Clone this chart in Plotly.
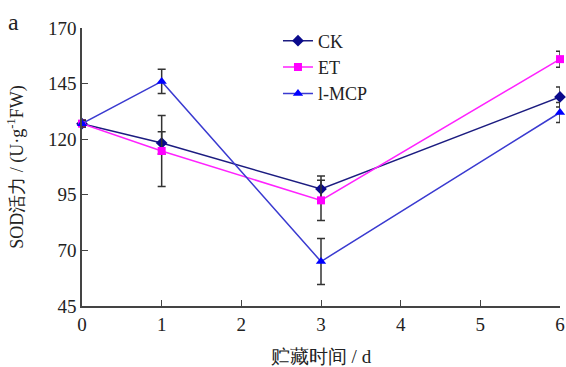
import plotly.graph_objects as go

days = [0, 1, 3, 6]
ck = [127, 118.3, 97.6, 139]
ck_err = [1.5, 5, 5.8, 4.5]
et = [127, 114.7, 92.5, 156]
et_err = [1.5, 16, 9, 3.6]
mcp = [127, 146, 65, 132]
mcp_err = [1.5, 5.5, 10.3, 4.5]

series = [
    ("CK", ck, ck_err, "#1c1c80", "#0a0a8c", "diamond", 9),
    ("ET", et, et_err, "#ff22ff", "#ff00ff", "square", 8),
    ("l-MCP", mcp, mcp_err, "#3a3ad0", "#0000ff", "triangle-up", 9),
]

fig = go.Figure()
for name, y, err, lc, mc, sym, ms in series:
    fig.add_trace(go.Scatter(
        x=days, y=y, name=name, mode="lines+markers", cliponaxis=False,
        line=dict(color=lc, width=1.5),
        marker=dict(color=mc, symbol=sym, size=ms),
        error_y=dict(type="data", array=err, visible=True, color="#333333", thickness=1.5, width=4),
    ))

font = "Liberation Serif, Times New Roman, serif"
fig.update_layout(
    width=566, height=367,
    margin=dict(l=82, r=6, t=28, b=61),
    paper_bgcolor="white", plot_bgcolor="white",
    font=dict(family=font, size=18, color="#222222"),
    showlegend=True,
    legend=dict(x=0.41, y=1.02, xanchor="left", yanchor="top", bgcolor="rgba(0,0,0,0)",
                font=dict(size=18, family=font), tracegroupgap=0, itemwidth=30),
    xaxis=dict(range=[0, 6], tickvals=[0, 1, 2, 3, 4, 5, 6], showgrid=False, zeroline=False,
               showline=True, linecolor="#444444", linewidth=1.5, ticks="inside", ticklen=6,
               tickcolor="#444444", tickfont=dict(size=19, family=font), automargin=False,
               title=dict(text="贮藏时间 / d", font=dict(size=19, family=font), standoff=17)),
    yaxis=dict(range=[45, 170], tickvals=[45, 70, 95, 120, 145, 170], showgrid=False, zeroline=False,
               showline=True, linecolor="#444444", linewidth=1.5, ticks="inside", ticklen=6,
               tickcolor="#444444", tickfont=dict(size=19, family=font), automargin=False,
               title=dict(text="SOD活力 / (U·g<sup>-1</sup>FW)", font=dict(size=18, family=font), standoff=20)),
)
fig.add_annotation(text="a", x=-0.144, y=1.02, xref="paper", yref="paper", xanchor="center", yanchor="middle",
                   showarrow=False, font=dict(size=24, family=font, color="#222222"))
fig.write_html("out.html", config={"displayModeBar": False},
               post_script="document.body.style.margin='0';document.body.style.overflow='hidden';")
